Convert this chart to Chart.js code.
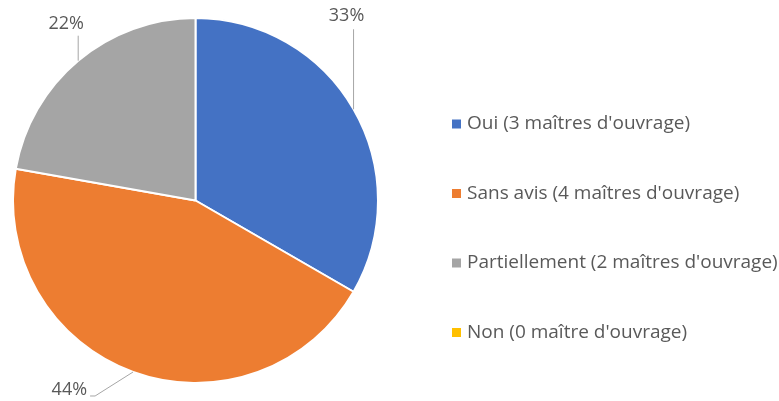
<!DOCTYPE html>
<html>
<head>
<meta charset="utf-8">
<script src="https://cdn.jsdelivr.net/npm/chart.js@4"></script>
<style>
html,body{margin:0;padding:0;background:#fff;}
#wrap{width:779px;height:401px;position:relative;}
</style>
</head>
<body>
<div id="wrap"><canvas id="c" width="779" height="401"></canvas></div>
<script>
const categories = ["Oui (3 maîtres d'ouvrage)", "Sans avis (4 maîtres d'ouvrage)", "Partiellement (2 maîtres d'ouvrage)", "Non (0 maître d'ouvrage)"];
const values = [3, 4, 2, 0];
const colors = ["#4472C4", "#ED7D31", "#A5A5A5", "#FFC000"];
const FONT = "'Open Sans', 'Liberation Sans', sans-serif";
const TEXT = "#595959";

const labelCfg = [
  {end: [0, -80], text: [-7, -13], align: 'center'},
  {end: [-38, 24], text: [-3, -6], align: 'right', elbow: 5},
  {end: [0, -25], text: [-12, -12], align: 'center'}
];

const labelPlugin = {
  id: 'pieLabels',
  afterDatasetsDraw(chart) {
    const ctx = chart.ctx;
    const meta = chart.getDatasetMeta(0);
    const total = values.reduce((a, b) => a + b, 0);
    ctx.save();
    meta.data.forEach((arc, i) => {
      if (!values[i]) return;
      const mid = (arc.startAngle + arc.endAngle) / 2;
      const ax = arc.x + Math.cos(mid) * arc.outerRadius;
      const ay = arc.y + Math.sin(mid) * arc.outerRadius;
      const cfg = labelCfg[i];
      const ex = ax + cfg.end[0], ey = ay + cfg.end[1];
      ctx.strokeStyle = '#A6A6A6';
      ctx.lineWidth = 1;
      ctx.beginPath();
      ctx.moveTo(ax, ay);
      ctx.lineTo(ex, ey);
      let tx = ex, ty = ey;
      if (cfg.elbow) { ctx.lineTo(ex - cfg.elbow, ey); tx = ex - cfg.elbow; }
      ctx.stroke();
      const pct = Math.round(values[i] / total * 100) + '%';
      ctx.fillStyle = TEXT;
      ctx.font = '18px ' + FONT;
      ctx.textAlign = cfg.align;
      ctx.textBaseline = 'middle';
      ctx.fillText(pct, tx + cfg.text[0], ty + cfg.text[1]);
    });
    ctx.restore();
  }
};

const legendPlugin = {
  id: 'customLegend',
  afterDraw(chart) {
    const ctx = chart.ctx;
    ctx.save();
    ctx.font = '19px ' + FONT;
    ctx.textBaseline = 'middle';
    ctx.textAlign = 'left';
    categories.forEach((c, i) => {
      const y = 124 + i * 69.5;
      ctx.fillStyle = colors[i];
      ctx.fillRect(452, y - 4.5, 9, 9);
      ctx.fillStyle = TEXT;
      ctx.fillText(c, 467, y);
    });
    ctx.restore();
  }
};

new Chart(document.getElementById('c'), {
  type: 'pie',
  data: {
    labels: categories,
    datasets: [{
      data: values,
      backgroundColor: colors,
      borderColor: '#ffffff',
      borderWidth: 2
    }]
  },
  options: {
    responsive: false,
    animation: false,
    layout: {padding: {left: 12, right: 400, top: 17, bottom: 17}},
    plugins: {legend: {display: false}, tooltip: {enabled: false}}
  },
  plugins: [labelPlugin, legendPlugin]
});
</script>
</body>
</html>
